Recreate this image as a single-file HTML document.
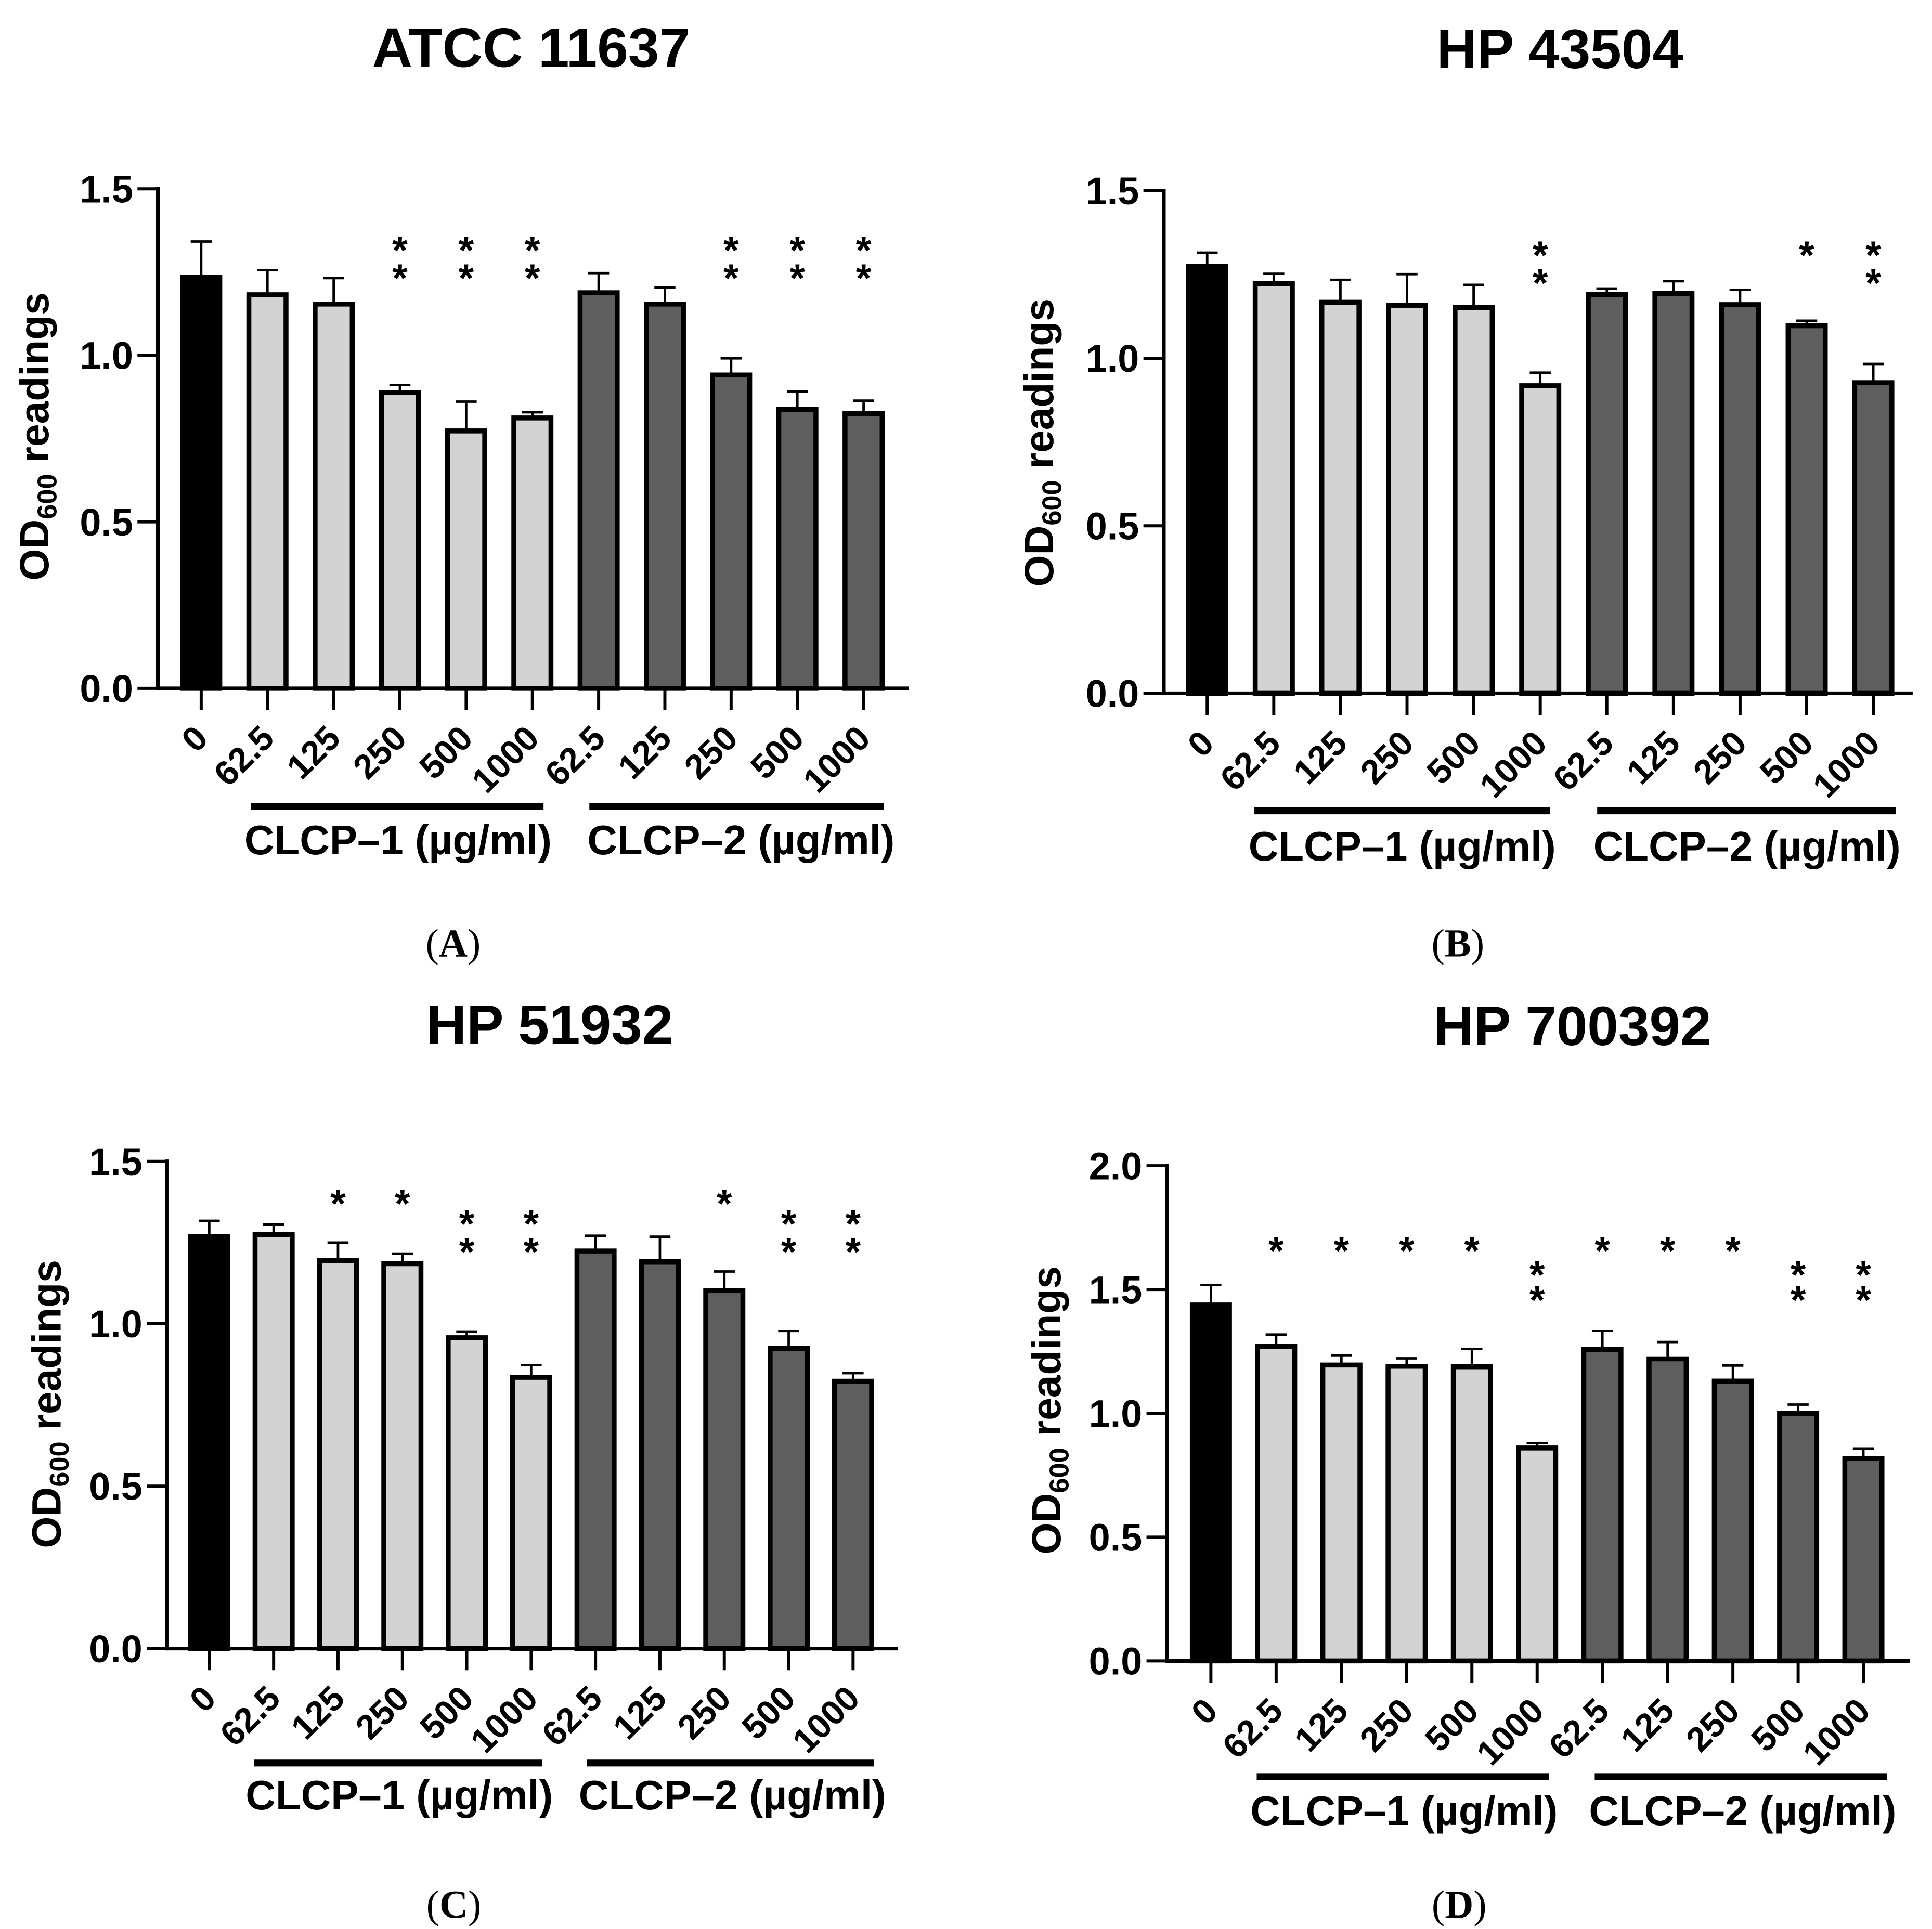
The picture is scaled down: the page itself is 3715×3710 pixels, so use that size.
<!DOCTYPE html>
<html><head><meta charset="utf-8"><style>
html,body{margin:0;padding:0;background:#fff;}
#wrap{position:relative;width:3715px;height:3710px;overflow:hidden;}
svg{position:absolute;}
text{font-family:"Liberation Sans",sans-serif;font-weight:bold;fill:#000;}
</style></head><body>
<div id="wrap"></div>
<script>
const categories = ["0","62.5","125","250","500","1000","62.5","125","250","500","1000"];
const groupLabels = ["CLCP\u20131 (\u00b5g/ml)","CLCP\u20132 (\u00b5g/ml)"];
const titles = ["ATCC 11637","HP 43504","HP 51932","HP 700392"];
const panelLetters = ["A","B","C","D"];
const valuesA = [1.234,1.182,1.154,0.888,0.773,0.812,1.188,1.154,0.941,0.838,0.825];
const errA    = [1.342,1.256,1.232,0.911,0.861,0.829,1.247,1.204,0.991,0.892,0.864];
const starsA  = [0,0,0,2,2,2,0,0,2,2,2];
const valuesB = [1.275,1.223,1.167,1.158,1.151,0.918,1.190,1.193,1.160,1.097,0.927];
const errB    = [1.315,1.252,1.234,1.251,1.219,0.957,1.208,1.230,1.204,1.112,0.983];
const starsB  = [0,0,0,0,0,2,0,0,0,1,2];
const valuesC = [1.268,1.275,1.195,1.185,0.957,0.835,1.224,1.191,1.102,0.924,0.823];
const errC    = [1.317,1.306,1.250,1.216,0.976,0.873,1.271,1.268,1.161,0.978,0.848];
const starsC  = [0,0,1,1,2,2,0,0,1,2,2];
const valuesD = [1.4375,1.270,1.195,1.190,1.188,0.860,1.258,1.220,1.130,1.000,0.818];
const errD    = [1.518,1.318,1.235,1.222,1.260,0.880,1.333,1.288,1.193,1.035,0.858];
const starsD  = [0,1,1,1,1,2,1,1,1,2,2];
const ticksA = ["0.0","0.5","1.0","1.5"];
const ticksD = ["0.0","0.5","1.0","1.5","2.0"];

const NS="http://www.w3.org/2000/svg";
function mk(tag,attrs,parent){const e=document.createElementNS(NS,tag);for(const k in attrs)e.setAttribute(k,attrs[k]);parent.appendChild(e);return e;}

const layouts=[
 {ox:0,oy:0,ax:255,y0:1112,yTop:305,ymax:1.5,b0:325,b1:1395,xEnd:1468,tx:858,ty:108,gy:1303,g1:[405,878],g2:[952,1428],gly:1380,gc:[643,1197],lx:732,ly:1545,ylx:55,yly:705,vals:valuesA,errs:errA,stars:starsA,ticks:ticksA,starY:[390,435]},
 {ox:1857,oy:0,ax:320,y0:1120,yTop:308,ymax:1.5,b0:390,b1:1466,xEnd:1530,tx:960,ty:110,gy:1310,g1:[466,944],g2:[1020,1502],gly:1390,gc:[705,1262],lx:795,ly:1545,ylx:118,yly:715,vals:valuesB,errs:errB,stars:starsB,ticks:ticksA,starY:[398,443]},
 {ox:0,oy:1855,ax:270,y0:1105,yTop:318,ymax:1.5,b0:338,b1:1378,xEnd:1450,tx:888,ty:128,gy:1290,g1:[410,876],g2:[948,1412],gly:1365,gc:[645,1183],lx:733,ly:1540,ylx:75,yly:710,vals:valuesC,errs:errC,stars:starsC,ticks:ticksA,starY:[405,450],single:372},
 {ox:1857,oy:1855,ax:325,y0:1125,yTop:325,ymax:2.0,b0:396,b1:1450,xEnd:1525,tx:980,ty:130,gy:1312,g1:[470,942],g2:[1016,1488],gly:1390,gc:[708,1255],lx:797,ly:1540,ylx:130,yly:720,vals:valuesD,errs:errD,stars:starsD,ticks:ticksD,starY:[487,528],single:448}
];
const wrap=document.getElementById('wrap');
layouts.forEach((L,p)=>{
  const svg=mk('svg',{width:1857,height:1855,viewBox:"0 0 1560 1558",style:`left:${L.ox}px;top:${L.oy}px`},wrap);
  
  
  const yS=v=>L.y0-(v/L.ymax)*(L.y0-L.yTop);
  const step=(L.b1-L.b0)/(categories.length-1);
  const xS=i=>L.b0+i*step;
  let t=mk('text',{x:L.tx,y:L.ty,'text-anchor':'middle','font-size':90},svg);t.textContent=titles[p];
  
  
  L.vals.forEach((v,i)=>{
    const cx=xS(i);const fill=i===0?'#000':(i<=5?'#d3d3d3':'#5e5e5e');
    const top=yS(v);const et=yS(L.errs[i]);
    const e=mk('line',{x1:cx,x2:cx,y1:top,y2:et,stroke:'#000','stroke-width':4},svg);
    
    
    const c=mk('line',{x1:cx-17,x2:cx+17,y1:et,y2:et,stroke:'#000','stroke-width':4},svg);
    
    
    const r=mk('rect',{x:cx-30,y:top,width:60,height:L.y0-top,fill:fill,stroke:'#000','stroke-width':8},svg);
    
    
    const tk=mk('line',{x1:cx,x2:cx,y1:L.y0,y2:L.y0+35,stroke:'#000','stroke-width':5},svg);
    
    
    const lx=cx+14,ly=L.y0+84;
    const lb=mk('text',{x:lx,y:ly,'text-anchor':'end','font-size':56,transform:`rotate(-45 ${lx} ${ly})`},svg);
    lb.textContent=categories[i];
    
    
    const n=L.stars[i];
    const ys=n===2?L.starY:(n===1?[L.single||L.starY[0]]:[]);
    ys.forEach(y=>{const s=mk('text',{x:cx,y:y+36,'text-anchor':'middle','font-size':64,'font-weight':'normal'},svg);s.textContent='*';
      
      });
  });
  let a=mk('line',{x1:L.ax,x2:L.ax,y1:L.yTop-3,y2:L.y0+3,stroke:'#000','stroke-width':6},svg);
  
  
  a=mk('line',{x1:L.ax-3,x2:L.xEnd,y1:L.y0,y2:L.y0,stroke:'#000','stroke-width':6},svg);
  
  
  L.ticks.forEach(tl=>{
    const y=yS(parseFloat(tl));
    const tk=mk('line',{x1:L.ax-33,x2:L.ax,y1:y,y2:y,stroke:'#000','stroke-width':5},svg);
    
    
    const tt=mk('text',{x:L.ax-40,y:y+22,'text-anchor':'end','font-size':62},svg);tt.textContent=tl;
    
    
  });
  const yl=mk('text',{x:L.ylx,y:L.yly,'text-anchor':'middle','font-size':66,transform:`rotate(-90 ${L.ylx} ${L.yly})`,dy:23},svg);
  yl.innerHTML='OD<tspan font-size="44" dy="13">600</tspan><tspan dy="-13"> readings</tspan>';
  
  
  [L.g1,L.g2].forEach((g,k)=>{
    const gl=mk('line',{x1:g[0],x2:g[1],y1:L.gy,y2:L.gy,stroke:'#000','stroke-width':11},svg);
    
    
    const gt=mk('text',{x:L.gc[k],y:L.gly,'text-anchor':'middle','font-size':67},svg);gt.textContent=groupLabels[k];
    
    
  });
  const pl=mk('text',{x:L.lx,y:L.ly,'text-anchor':'middle','font-size':64,style:'font-family:"Liberation Serif",serif;font-weight:normal'},svg);
  pl.innerHTML='(<tspan font-weight="bold">'+panelLetters[p]+'</tspan>)';
  
  
});
</script>
</body></html>
